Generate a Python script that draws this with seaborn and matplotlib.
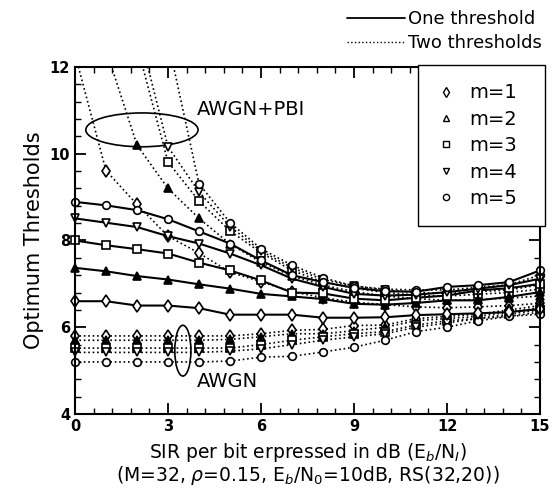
import numpy as np
import pandas as pd
import seaborn as sns
import matplotlib.pyplot as plt
from matplotlib.patches import Ellipse, Rectangle
from matplotlib.lines import Line2D
from matplotlib.ticker import MultipleLocator

#%% data
sir_db = list(range(16))
m_values = [1, 2, 3, 4, 5]

# one threshold (solid)
one_m1 = [6.60, 6.60, 6.50, 6.50, 6.44, 6.29, 6.29, 6.29, 6.22, 6.22, 6.23, 6.28, 6.30, 6.32, 6.35, 6.42]
one_m2 = [7.37, 7.29, 7.18, 7.10, 6.99, 6.89, 6.77, 6.71, 6.65, 6.54, 6.52, 6.56, 6.62, 6.62, 6.70, 6.81]
one_m3 = [8.00, 7.89, 7.80, 7.70, 7.49, 7.31, 7.08, 6.80, 6.78, 6.66, 6.62, 6.68, 6.73, 6.85, 6.90, 7.00]
one_m4 = [8.51, 8.41, 8.31, 8.10, 7.93, 7.70, 7.43, 7.12, 6.93, 6.77, 6.73, 6.75, 6.81, 6.89, 6.97, 7.12]
one_m5 = [8.89, 8.81, 8.70, 8.49, 8.21, 7.93, 7.54, 7.20, 7.04, 6.91, 6.83, 6.82, 6.93, 6.97, 7.04, 7.31]

# two thresholds, upper one (AWGN+PBI, dotted)
up_m1 = [12.3, 9.61, 8.83, 8.10, 7.71, 7.27, 7.05, 6.82, 6.68, 6.58, 6.52, 6.47, 6.45, 6.47, 6.50, 6.55]
up_m2 = [14.6, 12.4, 10.20, 9.20, 8.51, 7.92, 7.50, 7.18, 6.97, 6.82, 6.72, 6.66, 6.62, 6.64, 6.67, 6.72]
up_m3 = [16.0, 14.2, 12.50, 9.81, 8.91, 8.22, 7.72, 7.31, 7.04, 6.90, 6.80, 6.74, 6.72, 6.76, 6.80, 6.88]
up_m4 = [17.0, 15.0, 13.00, 10.16, 9.12, 8.32, 7.76, 7.37, 7.10, 6.95, 6.86, 6.80, 6.78, 6.82, 6.86, 6.98]
up_m5 = [19.0, 16.5, 14.40, 12.60, 9.31, 8.41, 7.81, 7.43, 7.14, 6.95, 6.88, 6.86, 6.86, 6.92, 6.98, 7.20]

# two thresholds, lower one (AWGN, dotted)
low_m1 = [5.80, 5.80, 5.80, 5.80, 5.80, 5.80, 5.85, 5.93, 5.95, 6.04, 6.05, 6.20, 6.25, 6.30, 6.40, 6.50]
low_m2 = [5.70, 5.70, 5.70, 5.70, 5.70, 5.72, 5.78, 5.85, 5.85, 5.92, 6.00, 6.15, 6.20, 6.25, 6.35, 6.45]
low_m3 = [5.52, 5.52, 5.52, 5.52, 5.52, 5.52, 5.60, 5.70, 5.78, 5.85, 5.90, 6.05, 6.15, 6.20, 6.30, 6.40]
low_m4 = [5.42, 5.42, 5.42, 5.42, 5.42, 5.45, 5.50, 5.60, 5.70, 5.78, 5.85, 6.00, 6.10, 6.20, 6.25, 6.35]
low_m5 = [5.20, 5.20, 5.20, 5.20, 5.20, 5.22, 5.31, 5.33, 5.43, 5.54, 5.70, 5.90, 6.00, 6.15, 6.25, 6.30]

curves = {
    'one': [one_m1, one_m2, one_m3, one_m4, one_m5],
    'upper': [up_m1, up_m2, up_m3, up_m4, up_m5],
    'lower': [low_m1, low_m2, low_m3, low_m4, low_m5],
}

#%% style
sns.set_theme(style="ticks")
plt.rcParams['font.family'] = ['DejaVu Sans']
plt.rcParams['mathtext.fontset'] = 'dejavusans'
plt.rcParams['text.color'] = 'black'
plt.rcParams['axes.labelcolor'] = 'black'
plt.rcParams['xtick.color'] = 'black'
plt.rcParams['ytick.color'] = 'black'

markers = {1: 'd', 2: '^', 3: 's', 4: 'v', 5: 'o'}
marker_sizes = {1: 6.5, 2: 5.5, 3: 5.5, 4: 5.5, 5: 5.5}
face = {1: 'white', 2: 'black', 3: 'white', 4: 'white', 5: 'white'}

rows = []
for kind, series in curves.items():
    for m, vals in zip(m_values, series):
        for x, v in zip(sir_db, vals):
            rows.append({'sir': x, 'thr': v, 'm': m, 'kind': kind})
df = pd.DataFrame(rows)

fig = plt.figure(figsize=(5.57, 4.96), dpi=100)
ax = fig.add_axes([0.1346, 0.1653, 0.8349, 0.6997])

clip_rect = Rectangle((-0.5, 3.5), 16.0, 8.5, transform=ax.transData)

for kind in ['upper', 'lower', 'one']:
    for m in m_values:
        sub = df[(df['kind'] == kind) & (df['m'] == m)]
        solid = kind == 'one'
        sns.lineplot(ax=ax, data=sub, x='sir', y='thr', estimator=None, sort=False,
                     color='black', linestyle='-' if solid else ':',
                     linewidth=1.5 if solid else 1.2,
                     marker=markers[m], markersize=marker_sizes[m],
                     markerfacecolor=face[m], markeredgecolor='black',
                     markeredgewidth=1.2, legend=False)
        ax.lines[-1].set_clip_path(clip_rect)

ax.set_xlim(0, 15)
ax.set_ylim(4, 12)
ax.xaxis.set_major_locator(MultipleLocator(3))
ax.xaxis.set_minor_locator(MultipleLocator(0.6))
ax.yaxis.set_major_locator(MultipleLocator(2))
ax.yaxis.set_minor_locator(MultipleLocator(0.4))
ax.tick_params(which='both', direction='in', top=True, right=True, colors='black')
ax.tick_params(which='major', length=8, width=1.3, labelsize=10.5)
ax.tick_params(which='minor', length=4.5, width=1.0)
for lab in ax.get_xticklabels() + ax.get_yticklabels():
    lab.set_fontweight('bold')
for sp in ax.spines.values():
    sp.set_linewidth(1.5)
    sp.set_color('black')

ax.set_ylabel('Optimum Thresholds', fontsize=15, labelpad=4)
ax.set_xlabel('SIR per bit erpressed in dB (E$_b$/N$_I$)\n'
              '(M=32, $\\rho$=0.15, E$_b$/N$_0$=10dB, RS(32,20))',
              fontsize=13.5, labelpad=5, linespacing=1.0)

# ellipses and annotations
ax.add_patch(Ellipse((2.16, 10.55), 3.62, 0.78, fill=False, color='black', lw=1.2))
ax.add_patch(Ellipse((3.48, 5.46), 0.52, 1.17, fill=False, color='black', lw=1.2))
ax.text(3.93, 11.03, 'AWGN+PBI', fontsize=14, ha='left', va='center')
ax.text(3.93, 4.76, 'AWGN', fontsize=14, ha='left', va='center')

# marker legend inside the axes
m_handles = [Line2D([], [], linestyle='none', marker=markers[m], markersize=marker_sizes[m] - 1,
                    markerfacecolor='white', markeredgecolor='black', markeredgewidth=1.0)
             for m in m_values]
leg = ax.legend(m_handles, [f'm={m}' for m in m_values], loc='upper left',
                bbox_to_anchor=(0.738, 0.0, 0.273, 1.006), mode='expand',
                borderaxespad=0, fontsize=14, frameon=True, fancybox=False,
                edgecolor='black', framealpha=1, handlelength=1.0,
                handletextpad=0.7, labelspacing=0.38, borderpad=0.95)
leg.get_frame().set_linewidth(1.0)

# line-style legend above the axes
s_handles = [Line2D([], [], color='black', linestyle='-', linewidth=1.3),
             Line2D([], [], color='black', linestyle=':', linewidth=1.0)]
fig.legend(s_handles, ['One threshold', 'Two thresholds'], loc='upper right',
           bbox_to_anchor=(0.995, 1.005), frameon=False, fontsize=13,
           handlelength=3.2, handletextpad=0.15, labelspacing=0.35, borderpad=0.2)

fig.savefig('out.png', dpi=100)
